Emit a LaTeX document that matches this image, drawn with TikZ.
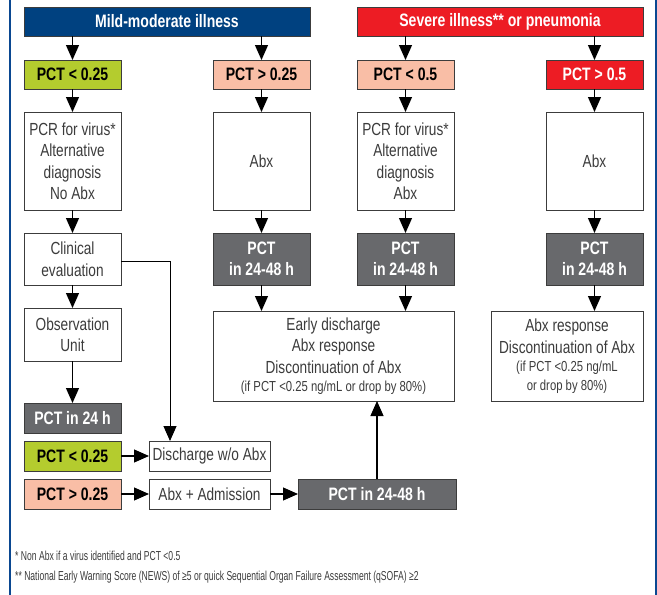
\documentclass[tikz,border=0pt]{standalone}
\usepackage{fontspec}
\setmainfont{Liberation Sans}[FakeStretch=0.78]
\newfontfamily\footfont{Liberation Sans}[FakeStretch=0.66]
\usetikzlibrary{arrows.meta}
\definecolor{hblue}{RGB}{0,65,128}
\definecolor{hred}{RGB}{237,28,36}
\definecolor{pgreen}{RGB}{180,204,46}
\definecolor{psalmon}{RGB}{249,190,166}
\definecolor{pgrey}{RGB}{104,105,108}
\definecolor{framegray}{RGB}{60,60,60}
\definecolor{textgray}{RGB}{60,60,60}
\definecolor{fblue}{RGB}{10,72,145}
\begin{document}
\begin{tikzpicture}[x=1pt,y=-1pt,
  box/.style={draw=framegray, line width=0.9pt, inner sep=0pt, outer sep=0pt, align=center},
  hdr/.style={box, text=white, font=\fontsize{18}{20}\selectfont\bfseries, minimum width=286pt, minimum height=29pt},
  pct/.style={box, text=black, font=\fontsize{18}{20}\selectfont\bfseries, minimum width=97pt, minimum height=29pt},
  gbox/.style={box, fill=pgrey, text=white, font=\fontsize{18}{21}\selectfont\bfseries, minimum width=97pt},
  wbox/.style={box, fill=white, text=textgray, font=\fontsize{17.5}{21.5}\selectfont, minimum width=97pt},
  arr/.style={line width=1.2pt, draw=black, -{Triangle[length=15pt,width=13pt]}},
  thin/.style={line width=1pt, draw=black, -{Triangle[length=15pt,width=13pt]}},
  foot/.style={anchor=west, inner sep=0pt, text=textgray, font=\footfont\fontsize{13}{14}\selectfont}]
\useasboundingbox (0,0) rectangle (657,595);
\fill[white] (0,0) rectangle (657,595);
% frame lines
\draw[fblue, line width=2.6pt] (10,0) -- (10,595);
\draw[fblue, line width=2.6pt] (656,0) -- (656,595);

% headers
\node[hdr, fill=hblue] (h1) at (167,21.5) {Mild-moderate illness};
\node[hdr, fill=hred] (h2) at (500,21.5) {Severe illness** or pneumonia};

% row 2
\node[pct, fill=pgreen] (a2) at (72.5,74.5) {PCT < 0.25};
\node[pct, fill=psalmon] (b2) at (261.5,74.5) {PCT > 0.25};
\node[pct, fill=psalmon] (c2) at (405.5,74.5) {PCT < 0.5};
\node[pct, fill=hred, text=white] (d2) at (594.5,74.5) {PCT > 0.5};

% row 3
\node[wbox, minimum height=98pt] (a3) at (72.5,161) {PCR for virus*\\Alternative\\diagnosis\\No Abx};
\node[wbox, minimum height=98pt] (b3) at (261.5,161) {Abx};
\node[wbox, minimum height=98pt] (c3) at (405.5,161) {PCR for virus*\\Alternative\\diagnosis\\Abx};
\node[wbox, minimum height=98pt] (d3) at (594.5,161) {Abx};

% row 4
\node[wbox, minimum height=52pt] (a4) at (72.5,259) {Clinical\\evaluation};
\node[gbox, minimum height=52pt] (b4) at (261.5,259) {PCT\\in 24-48 h};
\node[gbox, minimum height=52pt] (c4) at (405.5,259) {PCT\\in 24-48 h};
\node[gbox, minimum height=52pt] (d4) at (594.5,259) {PCT\\in 24-48 h};

% observation
\node[wbox, minimum height=53pt] (obs) at (72.5,334.5) {Observation\\Unit};
\node[gbox, minimum height=30pt] (p24) at (72.5,418) {PCT in 24 h};
\node[pct, fill=pgreen, minimum height=30pt] (a5) at (72.5,456) {PCT < 0.25};
\node[pct, fill=psalmon, minimum height=30pt] (a6) at (72.5,494) {PCT > 0.25};
\node[wbox, minimum width=121pt, minimum height=30pt] (disc) at (209.5,456) {Discharge w/o Abx};
\node[wbox, minimum width=121pt, minimum height=30pt] (adm) at (209.5,494) {Abx + Admission};
\node[gbox, minimum width=158pt, minimum height=30pt] (p2448) at (377,494) {PCT in 24-48 h};

% outcome boxes
\node[wbox, minimum width=241pt, minimum height=90pt] (early) at (333.5,356)
  {Early discharge\\Abx response\\Discontinuation of Abx\\[-3pt]{\fontsize{14.5}{16}\selectfont (if PCT <0.25 ng/mL or drop by 80\%)}};
\node[wbox, minimum width=152pt, minimum height=90pt] (resp) at (567,356)
  {Abx response\\Discontinuation of Abx\\[-3pt]{\fontsize{14.5}{16}\selectfont (if PCT <0.25 ng/mL}\\[-3pt]{\fontsize{14.5}{16}\selectfont or drop by 80\%)}};

% arrows
\draw[arr] (a2.north |- h1.south) -- (a2.north);
\draw[arr] (b2.north |- h1.south) -- (b2.north);
\draw[arr] (c2.north |- h2.south) -- (c2.north);
\draw[arr] (d2.north |- h2.south) -- (d2.north);
\draw[arr] (a2) -- (a3);
\draw[arr] (b2) -- (b3);
\draw[arr] (c2) -- (c3);
\draw[arr] (d2) -- (d3);
\draw[arr] (a3) -- (a4);
\draw[arr] (b3) -- (b4);
\draw[arr] (c3) -- (c4);
\draw[arr] (d3) -- (d4);
\draw[arr] (a4) -- (obs);
\draw[arr] (obs) -- (p24);
\draw[arr] (b4.south) -- (b4.south |- early.north);
\draw[arr] (c4.south) -- (c4.south |- early.north);
\draw[arr] (d4.south) -- (d4.south |- resp.north);
\coordinate (k) at (170,261);
\draw[thin] (a4.east |- k) -- (k) -- (k |- disc.north);
\draw[arr] (a5) -- (disc);
\draw[arr] (a6) -- (adm);
\draw[arr] (adm) -- (p2448);
\draw[arr] (p2448.north) -- (p2448.north |- early.south);

% footnotes
\node[foot] (f1) at (15,556) {* Non Abx if a virus identified and PCT <0.5};
\node[foot] (f2) at (15,577) {** National Early Warning Score (NEWS) of ≥5 or quick Sequential Organ Failure Assessment (qSOFA) ≥2};
\end{tikzpicture}
\end{document}
